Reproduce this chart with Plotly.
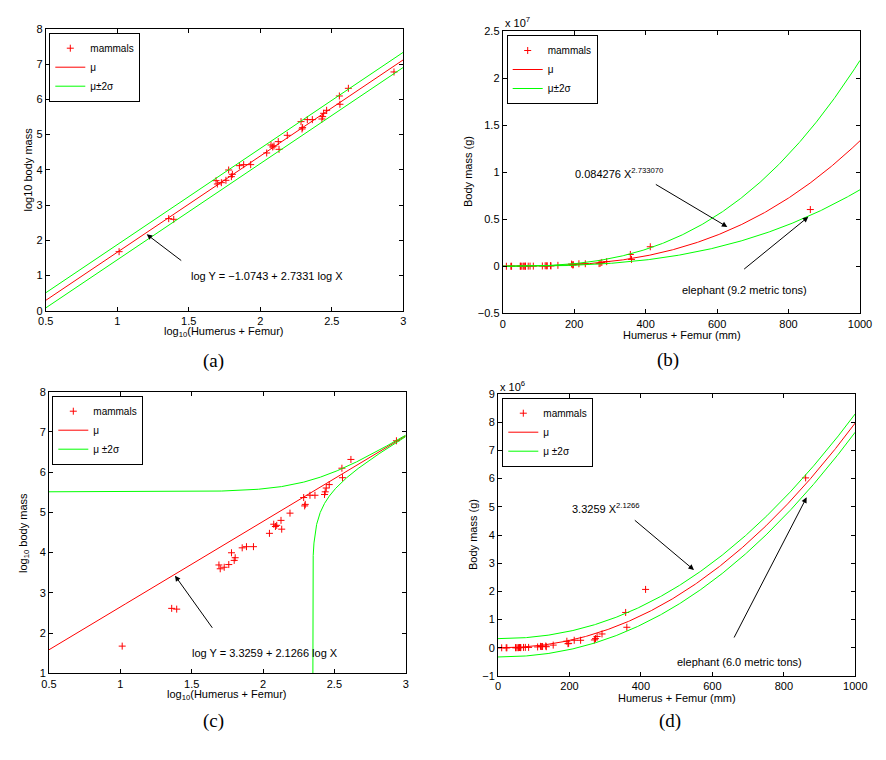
import numpy as np
import plotly.graph_objects as go

# ---------------- data ----------------
log_x = [1.013, 1.360, 1.395, 1.691, 1.700, 1.728, 1.760, 1.779, 1.798, 1.805,
         1.854, 1.884, 1.933, 2.045, 2.075, 2.087, 2.096, 2.126, 2.131, 2.189,
         2.285, 2.292, 2.296, 2.329, 2.364, 2.431, 2.436, 2.443, 2.464, 2.553,
         2.557, 2.616, 2.935]
log_y = [1.676, 2.614, 2.595, 3.693, 3.598, 3.636, 3.703, 3.996, 3.807, 3.873,
         4.119, 4.148, 4.148, 4.479, 4.706, 4.650, 4.678, 4.801, 4.583, 4.981,
         5.369, 5.161, 5.199, 5.426, 5.426, 5.445, 5.511, 5.606, 5.691, 6.098,
         5.862, 6.316, 6.780]
lin_x = [10 ** v for v in log_x]
lin_y = [10 ** v for v in log_y]

# fitted models shown in the chart
log_fit_a, log_fit_b, log_two_sigma = -1.0743, 2.7331, 0.215   # log-space fit
lin_fit_a, lin_fit_b, lin_two_sigma = 3.3259, 2.1266, 3.25e5   # linear-space fit

legend_labels_ab = ["mammals", "μ", "μ±2σ"]
legend_labels_cd = ["mammals", "μ", "μ ±2σ"]
panel_labels = ["(a)", "(b)", "(c)", "(d)"]

b_tickvals = [-0.5e7, 0, 0.5e7, 1e7, 1.5e7, 2e7, 2.5e7]
b_ticktext = ["\u22120.5", "0", "0.5", "1", "1.5", "2", "2.5"]
d_tickvals = [v * 1e6 for v in range(-1, 10)]
d_ticktext = ["\u22121"] + [str(v) for v in range(0, 10)]

# ---------------- helpers ----------------
# the page body has an 8px margin, so the figure starts at (8, 8) in the window
OFF = 8
W, H = 886 - OFF, 760 - OFF
def fx(px):
    return (px - OFF) / W
def fy(py):
    return 1 - (py - OFF) / H

RED = "#ff0000"
GREEN = "#00ff00"
FONT = "Liberation Sans"
FS = 11

fig = go.Figure()

def add_panel(n, xs_pts, ys_pts, xgrid, mu, up, lo, labels):
    xa = "x" if n == 1 else f"x{n}"
    ya = "y" if n == 1 else f"y{n}"
    lg = "legend" if n == 1 else f"legend{n}"
    fig.add_trace(go.Scatter(x=xs_pts, y=ys_pts, mode="markers", name=labels[0],
                             marker=dict(symbol="cross-thin", size=5, color=RED,
                                         line=dict(color=RED, width=1)),
                             xaxis=xa, yaxis=ya, legend=lg))
    fig.add_trace(go.Scatter(x=xgrid, y=mu, mode="lines", name=labels[1],
                             line=dict(color=RED, width=1), xaxis=xa, yaxis=ya, legend=lg))
    fig.add_trace(go.Scatter(x=up[0], y=up[1], mode="lines", name=labels[2],
                             legendgroup=f"s{n}",
                             line=dict(color=GREEN, width=1), xaxis=xa, yaxis=ya, legend=lg))
    fig.add_trace(go.Scatter(x=lo[0], y=lo[1], mode="lines", name=labels[2],
                             legendgroup=f"s{n}", showlegend=False,
                             line=dict(color=GREEN, width=1), xaxis=xa, yaxis=ya, legend=lg))

# panel a: log-log fit
xa_grid = np.linspace(0.5, 3, 201)
mu_a = log_fit_a + log_fit_b * xa_grid
add_panel(1, log_x, log_y, xa_grid, mu_a,
          (xa_grid, mu_a + log_two_sigma), (xa_grid, mu_a - log_two_sigma), legend_labels_ab)

# panel b: same fit in linear space
xb_grid = np.linspace(0, 1000, 401)
mu_b = 10 ** log_fit_a * xb_grid ** log_fit_b
add_panel(2, lin_x, lin_y, xb_grid, mu_b,
          (xb_grid, mu_b * 10 ** log_two_sigma), (xb_grid, mu_b * 10 ** (-log_two_sigma)),
          legend_labels_ab)

# panel c: linear-space fit shown in log space
xc_grid = np.linspace(0.5, 3, 1001)
lin_c = lin_fit_a * 10 ** (lin_fit_b * xc_grid)
mu_c = np.log10(lin_c)
up_c = np.log10(lin_c + lin_two_sigma)
x_root = np.log10(lin_two_sigma / lin_fit_a) / lin_fit_b
xl = x_root + (3 - x_root) * np.linspace(0, 1, 1500) ** 3
low_lin = lin_fit_a * 10 ** (lin_fit_b * xl) - lin_two_sigma
lo_c = np.log10(np.maximum(low_lin, 1e-3))
add_panel(3, log_x, log_y, xc_grid, mu_c, (xc_grid, up_c), (xl, lo_c), legend_labels_cd)

# panel d: linear-space fit
xd_grid = np.linspace(0, 1000, 401)
mu_d = lin_fit_a * xd_grid ** lin_fit_b
add_panel(4, lin_x, lin_y, xd_grid, mu_d,
          (xd_grid, mu_d + lin_two_sigma), (xd_grid, mu_d - lin_two_sigma), legend_labels_cd)

# ---------------- axes ----------------
common = dict(showline=True, linecolor="black", linewidth=1, mirror="ticks",
              ticks="inside", ticklen=4, tickcolor="black", showgrid=False,
              zeroline=False, automargin=False,
              tickfont=dict(family=FONT, size=FS, color="black"))

domains = {
    1: ((45.7, 403.3), (29, 310.7)),
    2: ((502.7, 860.0), (31, 313.3)),
    3: ((49.0, 405.7), (391.7, 673.3)),
    4: ((498.0, 855.3), (394, 676)),
}
ranges = {
    1: ([0.5, 3], [0, 8]),
    2: ([0, 1000], [-0.5e7, 2.5e7]),
    3: ([0.5, 3], [1, 8]),
    4: ([0, 1000], [-1e6, 9e6]),
}
lay = {}
for n in range(1, 5):
    (x0, x1), (y0, y1) = domains[n]
    xr, yr = ranges[n]
    xk = "xaxis" if n == 1 else f"xaxis{n}"
    yk = "yaxis" if n == 1 else f"yaxis{n}"
    xname = "x" if n == 1 else f"x{n}"
    yname = "y" if n == 1 else f"y{n}"
    xd = dict(common, domain=[fx(x0), fx(x1)], range=xr, anchor=yname)
    yd = dict(common, domain=[fy(y1), fy(y0)], range=yr, anchor=xname)
    if n in (1, 3):
        xd.update(tickmode="array", tickvals=[0.5, 1, 1.5, 2, 2.5, 3],
                  ticktext=["0.5", "1", "1.5", "2", "2.5", "3"])
        yd.update(dtick=1, tick0=0)
    else:
        xd.update(dtick=200, tick0=0)
    if n == 2:
        yd.update(tickmode="array", tickvals=b_tickvals, ticktext=b_ticktext)
    if n == 4:
        yd.update(tickmode="array", tickvals=d_tickvals, ticktext=d_ticktext)
    lay[xk] = xd
    lay[yk] = yd

# ---------------- legends ----------------
leg_pos = {1: (49.3, 32.7), 2: (506.7, 35), 3: (52.3, 395.7), 4: (502.3, 397.7)}
for n in range(1, 5):
    k = "legend" if n == 1 else f"legend{n}"
    px, py = leg_pos[n]
    lay[k] = dict(x=fx(px), y=fy(py), xanchor="left", yanchor="top",
                  bgcolor="white", bordercolor="black", borderwidth=1,
                  font=dict(family=FONT, size=10, color="black"),
                  tracegroupgap=0, itemwidth=30)

fig.update_layout(width=W, height=H, autosize=False,
                  margin=dict(l=0, r=0, t=0, b=0, autoexpand=False),
                  paper_bgcolor="white", plot_bgcolor="white", **lay)

# ---------------- annotations ----------------
ann = []
tf = dict(family=FONT, size=FS, color="black")

def paper_text(text, px, py, angle=0, font=tf, xanchor="center"):
    ann.append(dict(text=text, x=fx(px), y=fy(py), xref="paper", yref="paper",
                    showarrow=False, textangle=angle, font=font,
                    xanchor=xanchor, yanchor="middle"))

# axis titles
paper_text("log<sub>10</sub>(Humerus + Femur)", 224, 332)
paper_text("log10 body mass", 27.5, 170, angle=-90)
paper_text("Humerus + Femur (mm)", 682, 335)
paper_text("Body mass (g)", 468, 172, angle=-90)
paper_text("log<sub>10</sub>(Humerus + Femur)", 227, 695)
paper_text("log<sub>10</sub> body mass", 24, 533, angle=-90)
paper_text("Humerus + Femur (mm)", 677, 698)
paper_text("Body mass (g)", 473, 535, angle=-90)
# exponent labels
paper_text("x 10<sup>7</sup>", 503, 22, xanchor="left")
paper_text("x 10<sup>6</sup>", 498, 386, xanchor="left")
# panel labels
serif = dict(family="Liberation Serif", size=19, color="black")
for lbl, (px, py) in zip(panel_labels, [(213, 361), (668, 360), (213, 721), (670, 721)]):
    paper_text(lbl, px, py, font=serif)

def data_text(n, text, x, y, xanchor="center"):
    xr = "x" if n == 1 else f"x{n}"
    yr = "y" if n == 1 else f"y{n}"
    ann.append(dict(text=text, x=x, y=y, xref=xr, yref=yr, showarrow=False,
                    font=tf, xanchor=xanchor, yanchor="middle"))

def arrow(n, tail, head):
    xr = "x" if n == 1 else f"x{n}"
    yr = "y" if n == 1 else f"y{n}"
    ann.append(dict(text="", x=head[0], y=head[1], ax=tail[0], ay=tail[1],
                    xref=xr, yref=yr, axref=xr, ayref=yr, showarrow=True,
                    arrowhead=2, arrowsize=1.1, arrowwidth=1, arrowcolor="black"))

data_text(1, "log Y = \u22121.0743 + 2.7331 log X", 1.50, 0.99, xanchor="left")
arrow(1, (1.458, 1.392), (1.206, 2.169))

data_text(2, "0.084276 X<sup>2.733070</sup>", 197.8, 0.99e7, xanchor="left")
arrow(2, (424.4, 0.879e7), (628.7, 0.418e7))
data_text(2, "elephant (9.2 metric tons)", 678, -0.255e7)
arrow(2, (671.6, -0.043e7), (855.4, 0.525e7))

data_text(3, "log Y = 3.3259 + 2.1266 log X", 2.014, 1.50)
arrow(3, (1.652, 2.094), (1.383, 3.428))

data_text(4, "3.3259 X<sup>2.1266</sup>", 201.5, 4.97e6, xanchor="left")
arrow(4, (378.7, 4.567e6), (548.5, 2.759e6))
data_text(4, "elephant (6.0 metric tons)", 677, -0.515e6)
arrow(4, (658.6, 0.312e6), (863.8, 5.336e6))

fig.update_layout(annotations=ann)
fig.write_html("out.html")
